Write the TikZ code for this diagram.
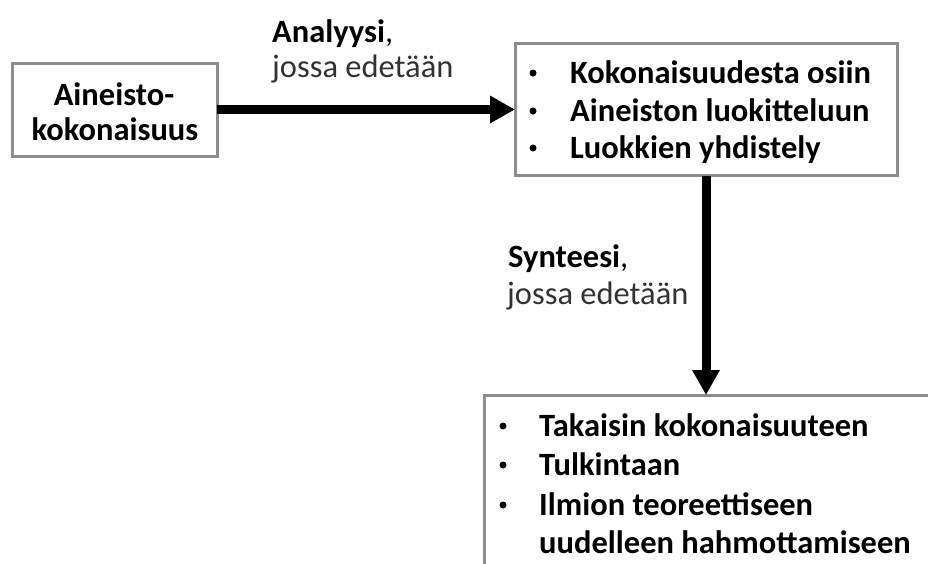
\documentclass[tikz,border=0pt]{standalone}
\usepackage{fontspec}
\setmainfont{Carlito}
\usetikzlibrary{arrows.meta}
\definecolor{frame}{RGB}{140,140,140}
\definecolor{softtext}{RGB}{50,50,50}
\begin{document}
\begin{tikzpicture}[x=1pt,y=-1pt,
  box/.style={draw=frame,line width=3pt,fill=white,inner sep=0pt,outer sep=0pt},
  item/.style={anchor=base west,inner sep=0pt,font=\fontsize{32.5}{39}\selectfont\bfseries},
  dot/.style={circle,fill=black,inner sep=0pt,minimum size=7pt},
  title/.style={anchor=base,inner sep=0pt,font=\fontsize{32.5}{39}\selectfont\bfseries},
  label/.style={anchor=base west,inner sep=0pt,font=\fontsize{32.5}{39}\selectfont},
  flow/.style={line width=9pt,-{Triangle[length=25pt,width=26pt]}}
]
\useasboundingbox (0,0) rectangle (928,563);
\clip (0,0) rectangle (928,563);

% the three boxes
\node[box,minimum width=205,minimum height=93] (source) at (114.5,109.5) {};
\node[box,minimum width=382,minimum height=132] (analysis) at (706,109.5) {};
\node[box,anchor=north west,minimum width=480,minimum height=220] (synthesis) at (484,395) {};

% source box text
\node[title] (src1) at (114,105) {Aineisto-};
\node[title] (src2) at (115,140) {kokonaisuus};

% analysis box items
\node[dot] (ab1) at (533,73) {};
\node[dot] (ab2) at (533,111) {};
\node[dot] (ab3) at (533,148) {};
\node[item] (a1) at (570,83) {Kokonaisuudesta osiin};
\node[item] (a2) at (570,121) {Aineiston luokitteluun};
\node[item] (a3) at (570,158) {Luokkien yhdistely};

% synthesis box items
\node[dot] (sb1) at (503,426) {};
\node[dot] (sb2) at (503,465) {};
\node[dot] (sb3) at (503,505) {};
\node[item] (s1) at (539,436) {Takaisin kokonaisuuteen};
\node[item] (s2) at (539,475) {Tulkintaan};
\node[item] (s3) at (539,515) {Ilmion teoreettiseen};
\node[item] (s4) at (539,553) {uudelleen hahmottamiseen};

% arrow labels
\node[label] (l1) at (272,42) {\textbf{Analyysi},};
\node[label,text=softtext] (l2) at (272,77) {jossa edetään};
\node[label] (l3) at (508,267) {\textbf{Synteesi},};
\node[label,text=softtext] (l4) at (507,304) {jossa edetään};

% connectors
\draw[flow] (source.east) -- (analysis.west);
\draw[flow] (analysis.south) -- (analysis.south |- synthesis.north);
\end{tikzpicture}
\end{document}
